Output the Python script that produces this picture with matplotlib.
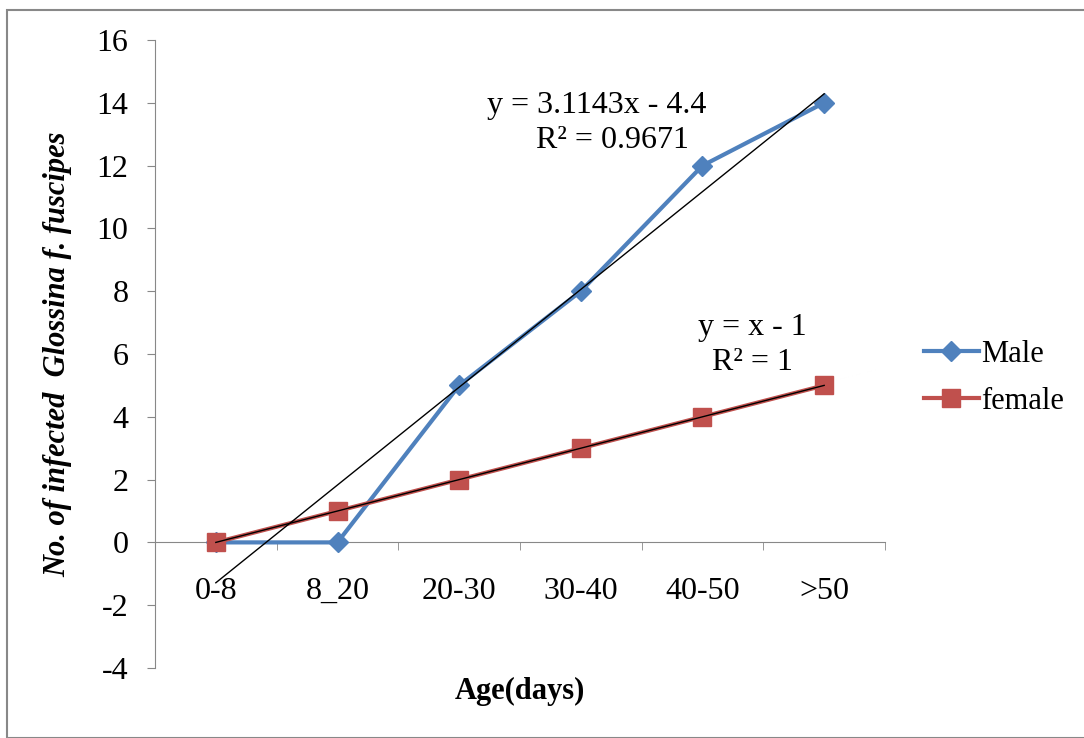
import numpy as np
import matplotlib.pyplot as plt
from matplotlib.patches import Rectangle

# data
ages = ['0-8', '8_20', '20-30', '30-40', '40-50', '>50']
male = [0, 0, 5, 8, 12, 14]
female = [0, 1, 2, 3, 4, 5]

plt.rcParams['font.family'] = ['Liberation Serif', 'DejaVu Serif']
plt.rcParams['axes.unicode_minus'] = False

W, H = 1084, 738
fig = plt.figure(figsize=(W / 100, H / 100), dpi=100)
fig.patches.append(Rectangle((7/W, 0), 1, 1 - 10/H, transform=fig.transFigure,
                             fill=False, edgecolor='#888888', linewidth=1.5))
ax = fig.add_axes([155/W, 70/H, 730/W, 628/H])

x = np.arange(1, len(ages) + 1)

# linear trend lines (least squares, like Excel)
m1, b1 = np.polyfit(x, male, 1)
m2, b2 = np.polyfit(x, female, 1)

ax.plot(x, male, color='#4F81BD', linewidth=3, marker='D', markersize=10,
        label='Male', zorder=3)
ax.plot(x, female, color='#C0504D', linewidth=3, marker='s', markersize=13,
        label='female', zorder=3)
ax.plot(x, m1 * x + b1, color='black', linewidth=1, zorder=4)
ax.plot(x, m2 * x + b2, color='black', linewidth=1, zorder=4)

def pix_text(px, py, s):
    fig.text(px / W, 1 - py / H, s, fontsize=23, ha='center', va='center')

pix_text(597, 105, 'y = 3.1143x - 4.4')
pix_text(612, 140, 'R² = 0.9671')
pix_text(752, 328, 'y = x - 1')
pix_text(752, 362, 'R² = 1')

ax.set_xlim(0.5, 6.5)
ax.set_ylim(-4, 16)
ax.set_yticks(range(-4, 17, 2))

for s in ['top', 'right']:
    ax.spines[s].set_visible(False)
ax.spines['left'].set_color('#888888')
ax.spines['bottom'].set_color('#888888')
ax.spines['bottom'].set_position(('data', 0))

ax.set_xticks(x)
ax.set_xticklabels(ages)
ax.set_xticks(np.arange(0.5, 7, 1), minor=True)
ax.tick_params(axis='x', which='major', length=0, pad=25, labelsize=23)
ax.tick_params(axis='x', which='minor', length=6, color='#888888', direction='out')
ax.tick_params(axis='y', length=6, color='#888888', pad=13, labelsize=23)

ax.set_xlabel('Age(days)', fontsize=22, fontweight='bold', va='center')
ax.xaxis.set_label_coords(0.5, -0.038)
ax.set_ylabel('No. of infected  Glossina f. fuscipes', fontsize=22,
              fontweight='bold', fontstyle='italic')
ax.yaxis.set_label_coords(-0.113, 0.5)

fig.legend(loc='center left', bbox_to_anchor=(896/W, 1 - 378/H), frameon=False,
           fontsize=22, handlelength=1.8, handletextpad=0.1, labelspacing=0.6)

plt.savefig('out.png', dpi=100)
